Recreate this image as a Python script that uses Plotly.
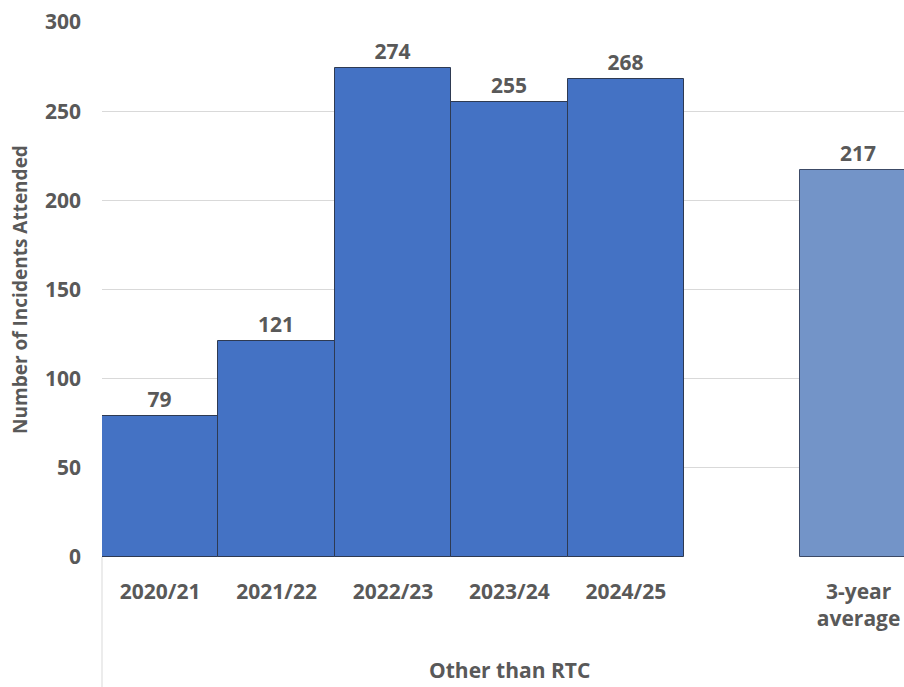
import plotly.graph_objects as go

categories = ["2020/21", "2021/22", "2022/23", "2023/24", "2024/25"]
values = [79, 121, 274, 255, 268]
avg_label = "3-year<br>average"
avg_value = 217
x_title = "Other than RTC"
y_title = "Number of Incidents Attended"
y_ticks = [0, 50, 100, 150, 200, 250, 300]

pos = list(range(len(categories)))
avg_pos = len(categories) + 1

FONT = "Open Sans"
GRAY = "#595959"
FS = 21

fig = go.Figure()
fig.add_trace(go.Bar(
    x=pos, y=values, width=1.0,
    marker=dict(color="#4472C4", line=dict(color="#2E3A52", width=1)),
    text=[str(v) for v in values], textposition="outside",
    textfont=dict(family=FONT, size=FS, color=GRAY, weight="bold"),
    cliponaxis=False, showlegend=False,
))
fig.add_trace(go.Bar(
    x=[avg_pos], y=[avg_value], width=1.0,
    marker=dict(color="#7394C8", line=dict(color="#3C4A66", width=1)),
    text=[str(avg_value)], textposition="outside",
    textfont=dict(family=FONT, size=FS, color=GRAY, weight="bold"),
    cliponaxis=False, showlegend=False,
))

fig.update_layout(
    width=904, height=687,
    margin=dict(l=102, r=0, t=22, b=130, autoexpand=False),
    plot_bgcolor="white", paper_bgcolor="white",
    bargap=0, barmode="overlay",
    font=dict(family=FONT, color=GRAY),
    xaxis=dict(
        range=[-0.5, 6.39],
        tickmode="array",
        tickvals=pos + [avg_pos],
        ticktext=categories + [avg_label],
        tickfont=dict(family=FONT, size=FS, color=GRAY, weight="bold"),
        ticks="", showgrid=False, zeroline=False, showline=False,
        ticklabelstandoff=20, automargin=False,
    ),
    yaxis=dict(
        range=[0, 300],
        tickmode="array", tickvals=y_ticks,
        tickfont=dict(family=FONT, size=FS, color=GRAY, weight="bold"),
        showgrid=True, gridcolor="#D9D9D9", gridwidth=1,
        zeroline=False, showline=False, ticks="",
        ticklabelstandoff=20, automargin=False,
        title=dict(text=y_title, font=dict(family=FONT, size=19, color=GRAY, weight="bold"), standoff=12),
    ),
)

fig.add_shape(type="line", xref="paper", yref="paper", x0=0, x1=0, y0=0, y1=-0.245,
              line=dict(color="#D9D9D9", width=1))
fig.add_annotation(x=3, xref="x", y=-0.212, yref="paper", text=x_title, showarrow=False,
                   yanchor="middle",
                   font=dict(family=FONT, size=FS, color=GRAY, weight="bold"))

fig.write_html("out.html", config={"displayModeBar": False},
               post_script="document.body.style.margin='0';document.body.style.overflow='hidden';")
